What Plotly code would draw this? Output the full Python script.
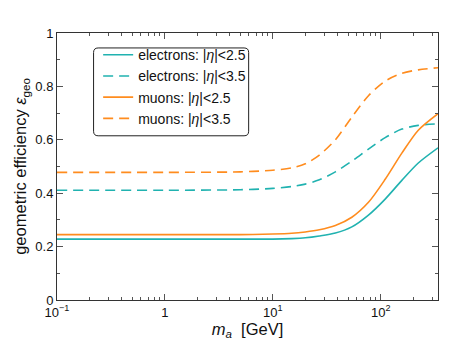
import plotly.graph_objects as go

# ---- data ----
mass = [0.1, 1, 5, 10, 15, 20, 27, 38, 54, 77, 110, 157, 223, 340]
el_25 = [0.228, 0.228, 0.228, 0.228, 0.230, 0.233, 0.240, 0.251, 0.274, 0.318, 0.378, 0.448, 0.513, 0.570]
el_35 = [0.411, 0.411, 0.413, 0.418, 0.425, 0.434, 0.450, 0.480, 0.520, 0.565, 0.608, 0.640, 0.654, 0.660]
mu_25 = [0.245, 0.245, 0.245, 0.247, 0.250, 0.255, 0.263, 0.279, 0.310, 0.366, 0.452, 0.550, 0.636, 0.698]
mu_35 = [0.478, 0.478, 0.480, 0.486, 0.495, 0.510, 0.543, 0.600, 0.685, 0.765, 0.820, 0.849, 0.862, 0.870]

names = ['electrons: |<i>η</i>|&lt;2.5', 'electrons: |<i>η</i>|&lt;3.5',
         'muons: |<i>η</i>|&lt;2.5', 'muons: |<i>η</i>|&lt;3.5']

x_major = [0.1, 1, 10, 100]
x_major_text = ['10<sup>−1</sup>', '1', '10<sup>1</sup>', '10<sup>2</sup>']
x_minor = [k * 10 ** e for e in (-1, 0, 1, 2) for k in range(2, 10) if k * 10 ** e <= 340]

TEAL = '#20b2b0'
ORANGE = '#ff8c1e'
DASH = '10px,6px'

fig = go.Figure()
series = [(el_25, TEAL, 'solid'), (el_35, TEAL, DASH),
          (mu_25, ORANGE, 'solid'), (mu_35, ORANGE, DASH)]
for (vals, col, dash), nm in zip(series, names):
    fig.add_trace(go.Scatter(x=mass, y=vals, mode='lines', name=nm,
                             line=dict(color=col, width=1.6, dash=dash, shape='spline',
                                       smoothing=0.8)))

# rounded legend frame
x0, x1, y0, y1 = 0.096, 0.503, 0.615, 0.944
rx, ry = 0.012, 0.017
path = (f'M {x0+rx},{y1} L {x1-rx},{y1} Q {x1},{y1} {x1},{y1-ry} '
        f'L {x1},{y0+ry} Q {x1},{y0} {x1-rx},{y0} L {x0+rx},{y0} '
        f'Q {x0},{y0} {x0},{y0+ry} L {x0},{y1-ry} Q {x0},{y1} {x0+rx},{y1} Z')
fig.add_shape(type='path', path=path, xref='paper', yref='paper',
              line=dict(color='#222', width=1), fillcolor='white', layer='below')

axis_common = dict(showline=True, linecolor='#333', linewidth=1, mirror='allticks',
                   ticks='inside', ticklen=6, tickcolor='#555', showgrid=False,
                   zeroline=False, tickfont=dict(size=13, color='#111'))

fig.update_xaxes(type='log', range=[-1, 2.531], tickvals=x_major, ticktext=x_major_text,
                 minor=dict(tickvals=x_minor, ticks='inside', ticklen=3, tickcolor='#555'),
                 title=dict(text='<i>m<sub>a</sub></i>  [GeV]', font=dict(size=16.5, color='#111'),
                            standoff=4),
                 **axis_common)
fig.update_yaxes(range=[0, 1], tickvals=[0, 0.2, 0.4, 0.6, 0.8, 1],
                 ticktext=['0', '0.2', '0.4', '0.6', '0.8', '1'],
                 minor=dict(tickvals=[0.1, 0.3, 0.5, 0.7, 0.9], ticks='inside', ticklen=3,
                            tickcolor='#555'),
                 title=dict(text='geometric efficiency <i>ε</i><sub>geo</sub>',
                            font=dict(size=16.5, color='#111'), standoff=4),
                 **axis_common)

fig.update_layout(width=457, height=339, plot_bgcolor='white', paper_bgcolor='white',
                  font=dict(family='Liberation Sans, Arial, sans-serif', color='#111'),
                  margin=dict(l=46, r=27, t=25, b=44),
                  legend=dict(x=0.108, y=0.977, xanchor='left', yanchor='top',
                              bgcolor='rgba(0,0,0,0)', borderwidth=0,
                              font=dict(size=14, color='#111'), tracegroupgap=0),
                  showlegend=True)

fig.write_html('out.html')
